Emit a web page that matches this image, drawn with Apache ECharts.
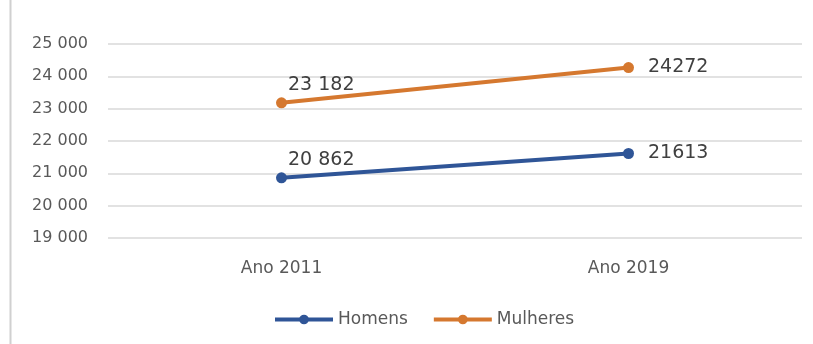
<!DOCTYPE html>
<html>
<head>
<meta charset="utf-8">
<script src="https://cdn.jsdelivr.net/npm/echarts@6/dist/echarts.min.js"></script>
<style>
  html, body { margin: 0; padding: 0; background: #ffffff; }
  #chart { width: 813px; height: 344px; }
</style>
</head>
<body>
<div id="chart"></div>
<script>
// Rendimento médio por sexo
const categories = ['Ano 2011', 'Ano 2019'];
const homens = [20862, 21613];
const mulheres = [23182, 24272];
const yTicks = [19000, 20000, 21000, 22000, 23000, 24000, 25000];

const FONT = '"DejaVu Sans", sans-serif';

function spaced(v) {
  return String(v).replace(/\B(?=(\d{3})+(?!\d))/g, ' ');
}

// first-year labels sit above-right of the marker, last-year labels to the right
function points(values) {
  return values.map((v, i) => ({
    value: v,
    label: i === 0
      ? { position: 'right', distance: 1, offset: [0, -18], formatter: spaced(v) }
      : { position: 'right', distance: 14, offset: [0, 0], formatter: String(v) }
  }));
}

const chart = echarts.init(document.getElementById('chart'));
chart.setOption({
  animation: false,
  textStyle: { fontFamily: FONT },
  grid: { left: 108, right: 11, top: 44, bottom: 106 },
  graphic: [{
    type: 'line',
    shape: { x1: 10.5, y1: 0, x2: 10.5, y2: 344 },
    style: { stroke: '#d0d0d0', lineWidth: 2 }
  }],
  legend: {
    top: 306,
    left: 268,
    itemWidth: 58,
    itemHeight: 12,
    itemGap: 24,
    lineStyle: { width: 4 },
    textStyle: { fontSize: 17, color: '#595959', fontFamily: FONT },
    data: ['Homens', 'Mulheres']
  },
  xAxis: {
    type: 'category',
    data: categories,
    boundaryGap: true,
    axisLine: { show: false },
    axisTick: { show: false },
    axisLabel: { fontSize: 17, color: '#595959', margin: 22 }
  },
  yAxis: {
    type: 'value',
    min: yTicks[0],
    max: yTicks[yTicks.length - 1],
    interval: 1000,
    axisLine: { show: false },
    axisTick: { show: false },
    splitLine: { lineStyle: { color: '#d9d9d9', width: 1.5 } },
    axisLabel: { fontSize: 16, color: '#595959', margin: 20, formatter: v => spaced(v) }
  },
  series: [
    {
      name: 'Homens',
      type: 'line',
      data: points(homens),
      symbol: 'circle',
      symbolSize: 11,
      lineStyle: { color: '#2f5597', width: 4 },
      itemStyle: { color: '#2f5597' },
      label: { show: true, fontSize: 19, color: '#404040', fontFamily: FONT }
    },
    {
      name: 'Mulheres',
      type: 'line',
      data: points(mulheres),
      symbol: 'circle',
      symbolSize: 11,
      lineStyle: { color: '#d5782f', width: 4 },
      itemStyle: { color: '#d5782f' },
      label: { show: true, fontSize: 19, color: '#404040', fontFamily: FONT }
    }
  ]
});
</script>
</body>
</html>
